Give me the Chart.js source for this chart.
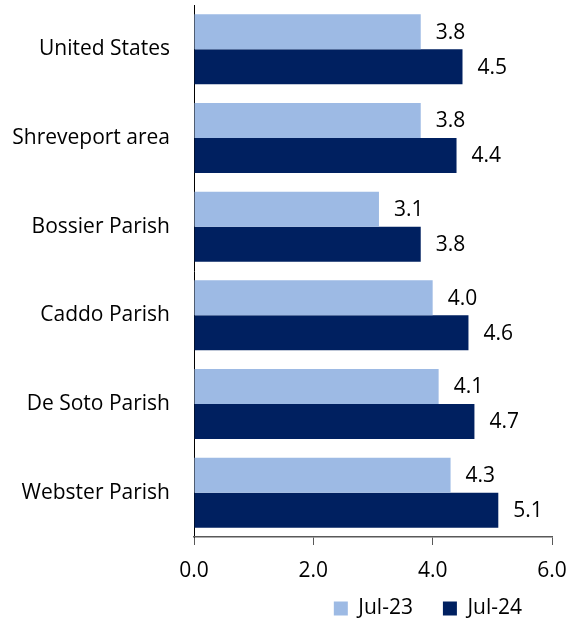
<!DOCTYPE html>
<html>
<head>
<meta charset="utf-8">
<script src="https://cdn.jsdelivr.net/npm/chart.js@4.4.0/dist/chart.umd.min.js"></script>
<style>
  html, body { margin: 0; padding: 0; background: #fff; }
  #wrap { width: 568px; height: 619px; position: relative; }
</style>
</head>
<body>
<div id="wrap"><canvas id="chart"></canvas></div>
<script>
const areas = ['United States', 'Shreveport area', 'Bossier Parish', 'Caddo Parish', 'De Soto Parish', 'Webster Parish'];
const jul23 = [3.8, 3.8, 3.1, 4.0, 4.1, 4.3];
const jul24 = [4.5, 4.4, 3.8, 4.6, 4.7, 5.1];
const xTicks = [0, 2, 4, 6];

const FONT = '"Open Sans", Lato, sans-serif';
const FSIZE = 21;

// value labels to the right of each bar
const barLabels = {
    id: 'barLabels',
    afterDatasetsDraw(chart) {
        const ctx = chart.ctx;
        ctx.save();
        ctx.font = FSIZE + 'px ' + FONT;
        ctx.fillStyle = '#000';
        ctx.textBaseline = 'middle';
        ctx.textAlign = 'left';
        chart.data.datasets.forEach((ds, i) => {
            chart.getDatasetMeta(i).data.forEach((bar, j) => {
                ctx.fillText(ds.data[j].toFixed(1), bar.x + 15, bar.y + 1);
            });
        });
        ctx.restore();
    }
};

// pull the legend up a bit closer to the axis labels
const legendNudge = {
    id: 'legendNudge',
    afterLayout(chart) {
        const lg = chart.legend;
        if (!lg) return;
        lg.top -= 19;
        lg.bottom -= 19;
    }
};

const ctx = document.getElementById('chart').getContext('2d');
new Chart(ctx, {
    type: 'bar',
    data: {
        labels: areas,
        datasets: [
            { label: 'Jul-23', data: jul23, backgroundColor: '#9dbae4' },
            { label: 'Jul-24', data: jul24, backgroundColor: '#002060' }
        ]
    },
    options: {
        indexAxis: 'y',
        responsive: true,
        maintainAspectRatio: false,
        animation: false,
        categoryPercentage: 0.79,
        barPercentage: 1.0,
        layout: { padding: { top: 5, right: 16, left: 0, bottom: -29 } },
        scales: {
            y: {
                grid: { display: false, drawTicks: false },
                border: { display: true, color: '#000', width: 1 },
                ticks: { color: '#000', padding: 24, font: { family: FONT, size: FSIZE } },
                afterFit(scale) {
                    scale.width = 194;
                    scale.paddingTop = 0;
                    scale.paddingBottom = 0;
                }
            },
            x: {
                min: 0,
                max: 6,
                afterBuildTicks(scale) { scale.ticks = xTicks.map(v => ({ value: v })); },
                grid: { drawOnChartArea: false, drawTicks: true, tickLength: 8, color: '#595959' },
                border: { display: true, color: '#595959', width: 1.5 },
                ticks: {
                    color: '#000',
                    padding: 13,
                    maxRotation: 0,
                    font: { family: FONT, size: FSIZE },
                    callback: v => Number(v).toFixed(1)
                },
                afterFit(scale) {
                    scale.height = 50;
                    scale.paddingLeft = 0;
                    scale.paddingRight = 0;
                }
            }
        },
        plugins: {
            legend: {
                position: 'bottom',
                align: 'end',
                labels: {
                    boxWidth: 14,
                    boxHeight: 14,
                    padding: 30,
                    color: '#000',
                    font: { family: FONT, size: FSIZE }
                }
            },
            tooltip: { enabled: false }
        }
    },
    plugins: [barLabels, legendNudge]
});
</script>
</body>
</html>
